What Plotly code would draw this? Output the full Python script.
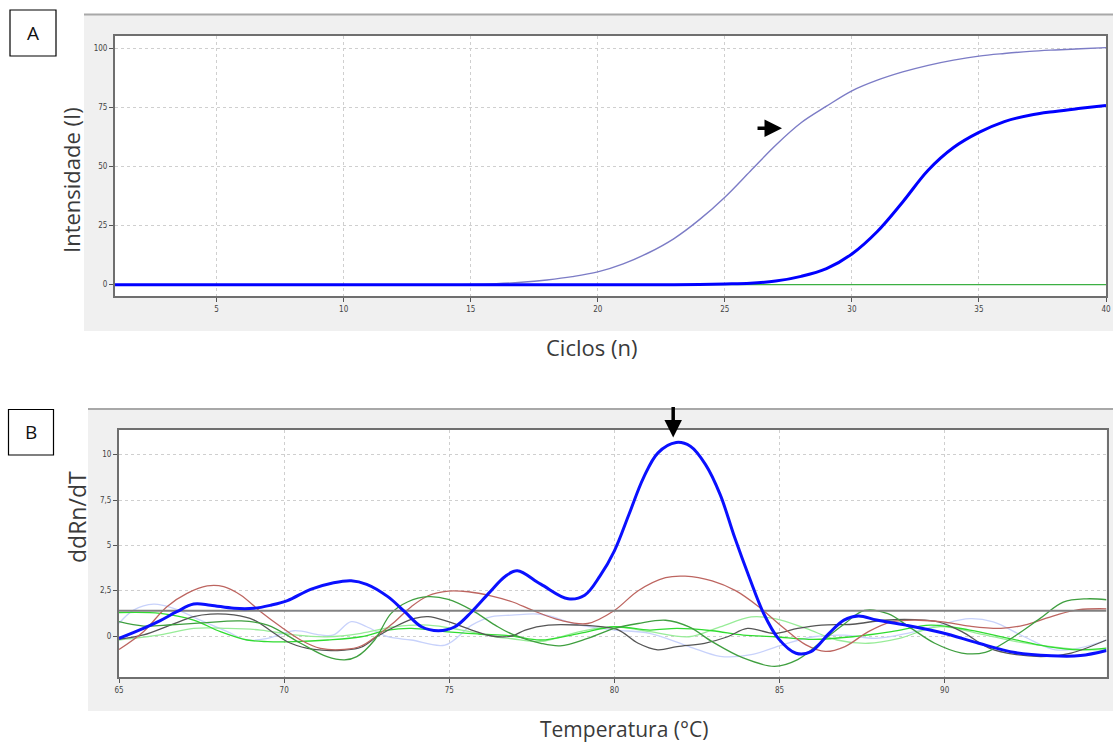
import plotly.graph_objects as go

W, H = 1113, 744
OFF = 0  # body margin removed via post_script

# ---------------- Panel A data (qPCR amplification) ----------------
cycles = list(range(1, 41))
light_curve = [0]*14 + [0.1, 0.4, 1.0, 2.0, 3.4, 5.4, 8.8, 13.5, 19.5, 27.5, 37, 48, 59, 68.5, 75.5,
                        82, 86.5, 90, 92.8, 95, 96.7, 97.8, 98.7, 99.3, 99.8, 100.3]
bold_curve = [0]*23 + [0.1, 0.3, 0.6, 1.5, 3.5, 6.8, 13, 22.5, 35, 48.4, 58, 64.4, 69, 71.7, 73.3, 74.6, 75.8]
green_curve = [0]*40

a_xticks = [5, 10, 15, 20, 25, 30, 35, 40]
a_yticks = [0, 25, 50, 75, 100]

# ---------------- Panel B data (melting curves) ----------------
blue_x = [65, 65.74, 66.25, 66.75, 67.26, 67.77, 68.48, 69.09, 69.6, 70.1, 70.8, 71.5, 72.03, 72.5, 73.14,
          73.65, 74.16, 74.67, 75.17, 75.68, 76.19, 76.7, 77.06, 77.77, 78.6, 79.1, 79.56, 80, 80.44,
          80.88, 81.32, 81.87, 82.3, 82.76, 83.2, 83.64, 84.08, 84.52, 84.96, 85.5, 85.95, 86.5, 86.95,
          87.39, 87.94, 88.82, 89.92, 91.03, 92.13, 93.23, 94.11, 94.9]
blue_y = [-0.13, 0.42, 0.85, 1.34, 1.76, 1.7, 1.53, 1.53, 1.7, 1.95, 2.57, 2.94, 3.05, 2.85, 2.17,
          1.34, 0.51, 0.29, 0.51, 1.34, 2.35, 3.3, 3.6, 2.86, 2.05, 2.25, 3.3, 4.7, 6.7,
          8.72, 10.1, 10.67, 10.46, 9.45, 7.81, 5.44, 3.25, 1.24, -0.13, -0.95, -0.86, 0.15, 0.88,
          1.1, 0.88, 0.6, 0.18, -0.4, -0.91, -1.09, -1.08, -0.8]

red_x = [65, 65.74, 66.45, 67.06, 67.67, 68.17, 68.68, 69.29, 69.9, 70.5, 71.1, 71.83, 72.33, 72.84,
         73.35, 73.85, 74.36, 74.97, 75.58, 76.29, 76.9, 77.53, 78.36, 79.19, 80, 80.72, 81.55, 82.14,
         82.96, 83.67, 84.38, 85.09, 85.8, 86.39, 86.98, 87.69, 88.39, 89.22, 89.93, 90.76, 91.7, 92.41,
         93.35, 94.06, 94.9]
red_y = [-0.74, 0.24, 1.62, 2.35, 2.76, 2.72, 2.26, 1.34, 0.51, -0.22, -0.68, -0.74, -0.55, 0.06,
         0.79, 1.62, 2.22, 2.48, 2.44, 2.2, 1.89, 1.41, 0.87, 0.69, 1.41, 2.5, 3.22, 3.3,
         3.04, 2.5, 1.6, 0.5, -0.49, -0.85, -0.58, 0.24, 0.78, 0.87, 0.78, 0.54, 0.42, 0.6,
         1.14, 1.45, 1.5]

dkgreen_x = [65, 65.74, 66.6, 67.5, 68.7, 69.5, 70.5, 71.3, 71.83, 72.2, 72.74, 73.24, 73.75, 74.36,
             74.97, 75.68, 76.39, 76.9, 77.77, 78.36, 79.19, 80, 80.72, 81.55, 82.26, 82.96, 83.9,
             84.85, 85.55, 86.27, 86.98, 87.57, 88.28, 88.99, 89.7, 90.52, 91.23, 91.94, 92.88, 93.59,
             94.3, 94.9]
dkgreen_y = [0.79, 0.55, 0.62, 0.72, 0.83, 0.6, -0.4, -1.14, -1.32, -1.14, -0.22, 1.25, 1.89, 2.17,
             2.02, 1.43, 0.6, 0.1, -0.4, -0.54, -0.13, 0.42, 0.69, 0.87, 0.5, -0.31, -1.21,
             -1.67, -1.3, -0.31, 0.69, 1.41, 1.23, 0.42, -0.4, -0.94, -0.9, -0.22, 0.96, 1.87,
             2.05, 2.0]

black_x = [65, 65.74, 66.55, 67.26, 67.77, 68.48, 69.09, 69.7, 70.2, 70.9, 71.83, 72.33, 72.84, 73.35,
           73.95, 74.36, 74.97, 75.68, 76.29, 76.9, 77.3, 78.0, 78.95, 79.66, 80.13, 80.72, 81.31,
           81.9, 82.73, 83.43, 84.03, 84.85, 85.55, 86.27, 87.21, 88.16, 89.1, 89.81, 90.52, 91.35,
           92.17, 93.12, 93.83, 94.9]
black_y = [-0.18, 0.06, 0.6, 1.07, 1.21, 1.16, 0.88, 0.15, -0.4, -0.74, -0.77, -0.62, 0, 0.51,
           0.97, 1.07, 0.79, 0.33, 0, 0, 0.33, 0.6, 0.6, 0.5, 0.33, -0.4, -0.76,
           -0.58, -0.4, -0.04, 0.42, 0.14, 0.42, 0.6, 0.65, 0.87, 0.9, 0.78, 0.24, -0.67,
           -1.03, -1.12, -0.94, -0.22]

lime_x = [65, 66.25, 67.26, 68.07, 68.88, 69.5, 70.3, 71.32, 72.33, 73.14, 73.85, 74.87, 75.88, 76.9,
          77.77, 78.95, 80, 81.07, 81.9, 82.96, 83.9, 84.85, 86.03, 87.21, 88.39, 89.57, 90.76, 91.94,
          93.12, 94.06, 94.9]
lime_y = [1.29, 1.25, 0.88, 0.24, -0.22, -0.31, -0.31, -0.22, -0.04, 0.33, 0.42, 0.24, 0.11, 0,
          -0.22, 0.15, 0.51, 0.33, 0.42, 0.29, 0.05, -0.04, -0.18, -0.04, 0.24, 0.6, 0.33, -0.13,
          -0.58, -0.76, -0.67]

pale_x = [65, 66.25, 67.26, 68.28, 69.29, 70.3, 71.32, 72.33, 73.35, 74.36, 75.37, 76.39, 76.9, 77.77,
          78.95, 80, 81.07, 82.26, 83.2, 84.14, 84.85, 85.8, 86.74, 87.69, 88.63, 89.81, 90.99, 92.17,
          93.35, 94.3, 94.9]
pale_y = [-0.22, 0.06, 0.42, 0.42, 0.33, 0.06, -0.04, 0.15, 0.51, 0.6, 0.33, -0.04, -0.15, -0.31,
          0.24, 0.51, 0.24, -0.04, 0.5, 1.05, 0.96, 0.42, -0.22, -0.4, -0.13, 0.51, 0.15, -0.31,
          -0.62, -0.76, -0.76]

lav_x = [65, 65.44, 66.05, 66.65, 67.46, 68.28, 68.88, 69.5, 70.3, 71.1, 71.5, 72.03, 72.5, 73.14,
         73.85, 74.87, 75.68, 76.29, 76.9, 77.77, 78.95, 80, 81.07, 82.26, 83.2, 84.14, 85.09, 86.03,
         86.98, 87.92, 88.87, 89.81, 90.76, 91.47, 92.41, 93.35, 94.06, 94.9]
lav_y = [0.7, 1.43, 1.76, 1.53, 0.88, 0.24, -0.22, -0.13, 0.29, 0.06, 0.06, 0.79, 0.51, -0.04,
         -0.22, -0.5, 0.6, 1.07, 1.15, 1.2, 0.6, 0.33, 0.15, -0.58, -1.12, -1.03, -0.49, -0.04,
         0.05, -0.13, 0.15, 0.6, 0.96, 0.78, -0.04, -0.76, -0.67, -0.22]

threshold = 1.4
b_xticks = [65, 70, 75, 80, 85, 90]
b_yticks = [0, 2.5, 5, 7.5, 10]
b_yticktext = ["0", "2,5", "5", "7,5", "10"]


def px(x):
    return (x - OFF) / W


def py(y):
    return 1 - (y - OFF) / H


fig = go.Figure()

# Panel A traces
fig.add_trace(go.Scatter(x=cycles, y=green_curve, mode="lines", line=dict(color="#3cb043", width=1.3),
                         xaxis="x", yaxis="y", hoverinfo="skip"))
fig.add_trace(go.Scatter(x=cycles, y=light_curve, mode="lines", line=dict(color="#7c7cc6", width=1.4, shape="spline"),
                         xaxis="x", yaxis="y"))
fig.add_trace(go.Scatter(x=cycles, y=bold_curve, mode="lines", line=dict(color="#0000ff", width=3, shape="spline"),
                         xaxis="x", yaxis="y"))

# Panel B traces
thin = [
    (lav_x, lav_y, "#c8d2fb"),
    (pale_x, pale_y, "#98ec98"),
    (lime_x, lime_y, "#30dc30"),
    (black_x, black_y, "#555555"),
    (red_x, red_y, "#bd6560"),
    (dkgreen_x, dkgreen_y, "#3f9f3f"),
]
for xs, ys, c in thin:
    fig.add_trace(go.Scatter(x=xs, y=ys, mode="lines", line=dict(color=c, width=1.3, shape="spline"),
                             xaxis="x2", yaxis="y2"))
fig.add_trace(go.Scatter(x=[65, 94.9], y=[threshold, threshold], mode="lines",
                         line=dict(color="#808080", width=2), xaxis="x2", yaxis="y2"))
fig.add_trace(go.Scatter(x=blue_x, y=blue_y, mode="lines", line=dict(color="#0a10ff", width=3, shape="spline"),
                         xaxis="x2", yaxis="y2"))

tickfont = dict(family="DejaVu Sans Condensed, Liberation Sans Narrow, Arial", size=8, color="#444444")
axis_common = dict(showline=True, linecolor="#6f6f6f", linewidth=2, mirror=True,
                   ticks="outside", ticklen=4, tickcolor="#555555", tickwidth=1,
                   showgrid=True, gridcolor="#cfcfcf", griddash="dot", gridwidth=1,
                   zeroline=False, tickfont=tickfont, automargin=False)

fig.update_layout(
    width=W, height=H,
    margin=dict(l=0, r=0, t=0, b=0, autoexpand=False),
    paper_bgcolor="white", plot_bgcolor="white",
    showlegend=False,
    xaxis=dict(domain=[px(115), px(1106)], range=[1, 40], tickvals=a_xticks, anchor="y", **axis_common),
    yaxis=dict(domain=[py(296), py(36)], range=[-4.8, 105.2], tickvals=a_yticks, anchor="x", **axis_common),
    xaxis2=dict(domain=[px(119), px(1106.5)], range=[65, 94.9], tickvals=b_xticks, anchor="y2", **axis_common),
    yaxis2=dict(domain=[py(677), py(430)], range=[-2.26, 11.36], tickvals=b_yticks, ticktext=b_yticktext,
                anchor="x2", **axis_common),
)

shapes = []
# grey frames
shapes.append(dict(type="rect", xref="paper", yref="paper", x0=px(84), x1=px(1125), y0=py(331), y1=py(14.5),
                   fillcolor="#f0f0f0", line=dict(width=0), layer="below"))
shapes.append(dict(type="line", xref="paper", yref="paper", x0=px(84), x1=px(1125), y0=py(14.5), y1=py(14.5),
                   line=dict(color="#a8a8a8", width=2), layer="below"))
shapes.append(dict(type="rect", xref="paper", yref="paper", x0=px(88), x1=px(1125), y0=py(711), y1=py(409),
                   fillcolor="#f0f0f0", line=dict(width=0), layer="below"))
shapes.append(dict(type="line", xref="paper", yref="paper", x0=px(88), x1=px(1125), y0=py(409), y1=py(409),
                   line=dict(color="#a8a8a8", width=2), layer="below"))
# white plot areas
shapes.append(dict(type="rect", xref="paper", yref="paper", x0=px(115), x1=px(1106), y0=py(296), y1=py(36),
                   fillcolor="white", line=dict(width=0), layer="below"))
shapes.append(dict(type="rect", xref="paper", yref="paper", x0=px(119), x1=px(1106.5), y0=py(677), y1=py(430),
                   fillcolor="white", line=dict(width=0), layer="below"))
# label boxes
shapes.append(dict(type="rect", xref="paper", yref="paper", x0=px(10), x1=px(56), y0=py(56), y1=py(10),
                   line=dict(color="#000000", width=1.2), fillcolor="white"))
shapes.append(dict(type="rect", xref="paper", yref="paper", x0=px(8.5), x1=px(53.5), y0=py(455), y1=py(409.5),
                   line=dict(color="#000000", width=1.2), fillcolor="white"))
fig.update_layout(shapes=shapes)


def label(text, x, y, size=17, angle=0, color="#3a3a3a"):
    return dict(text=text, x=px(x), y=py(y), xref="paper", yref="paper", showarrow=False,
                xanchor="center", yanchor="middle", textangle=angle,
                font=dict(family="Open Sans, Noto Sans, Arial", size=size, color=color))


annotations = [
    label("A", 33, 33, 19, 0, "#111111"),
    label("B", 31, 432, 19, 0, "#111111"),
    label("Intensidade (I)", 71, 180, 22, -90),
    label("Ciclos (n)", 592, 347, 22),
    label("ddRn/dT", 77, 517, 23, -90),
    label("Temperatura (°C)", 624, 729, 21),
    # arrows
    dict(text="", x=27.25, y=66.2, xref="x", yref="y", showarrow=True, ax=-26, ay=0,
         arrowhead=2, arrowsize=1, arrowwidth=3.5, arrowcolor="#000000"),
    dict(text="", x=81.78, y=10.95, xref="x2", yref="y2", showarrow=True, ax=0, ay=-32,
         arrowhead=2, arrowsize=1, arrowwidth=3.5, arrowcolor="#000000"),
]
fig.update_layout(annotations=annotations)

fig.write_html("out.html", config={"displayModeBar": False},
               post_script="document.body.style.margin='0';document.body.style.overflow='hidden';")
